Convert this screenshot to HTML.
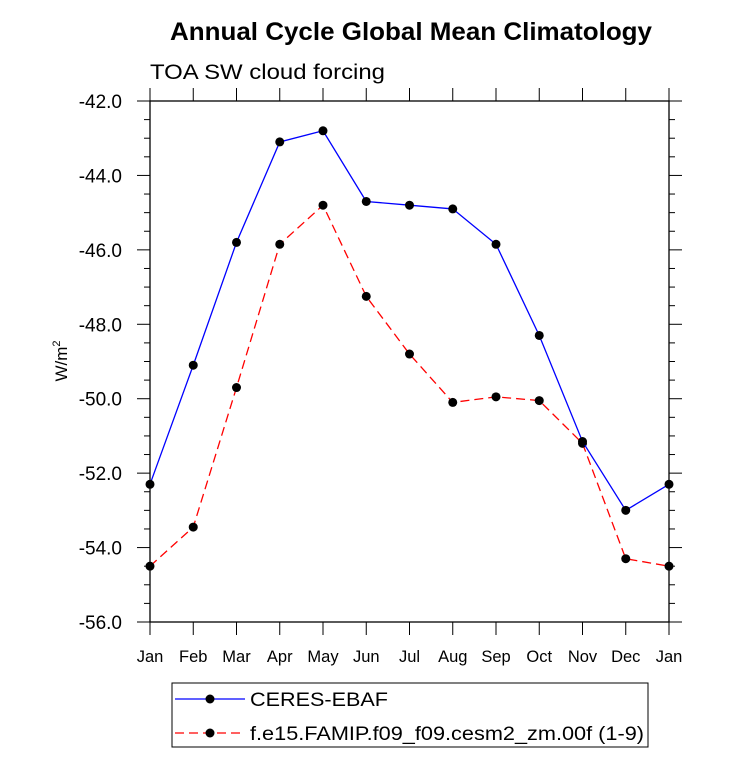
<!DOCTYPE html>
<html><head><meta charset="utf-8"><style>
body{margin:0;background:#fff;}
svg text{font-family:"Liberation Sans",Arial,sans-serif;}
</style></head><body>
<svg id="chart" width="733" height="757" xmlns="http://www.w3.org/2000/svg">
<text x="411" y="40" font-size="25" font-weight="bold" text-anchor="middle" textLength="482" lengthAdjust="spacingAndGlyphs">Annual Cycle Global Mean Climatology</text>
<text x="150" y="79" font-size="21" textLength="235" lengthAdjust="spacingAndGlyphs">TOA SW cloud forcing</text>
<g id="axes"></g>
<g id="series"></g>
<g>
<rect x="172" y="683" width="476" height="64" fill="#fff" stroke="#000" stroke-width="1"/>
<line x1="175" y1="699" x2="245" y2="699" stroke="#0000ff" stroke-width="1.3"/>
<circle cx="210" cy="699" r="4.5" fill="#000"/>
<text x="250" y="706" font-size="19" textLength="138" lengthAdjust="spacingAndGlyphs">CERES-EBAF</text>
<line x1="175" y1="733" x2="245" y2="733" stroke="#ff0000" stroke-width="1.3" stroke-dasharray="9,5"/>
<circle cx="210" cy="733" r="4.5" fill="#000"/>
<text x="250" y="740" font-size="19" textLength="394" lengthAdjust="spacingAndGlyphs">f.e15.FAMIP.f09_f09.cesm2_zm.00f (1-9)</text>
</g>
</svg>
<script>
const months=["Jan","Feb","Mar","Apr","May","Jun","Jul","Aug","Sep","Oct","Nov","Dec","Jan"];
const ceres=[-52.3,-49.1,-45.8,-43.1,-42.8,-44.7,-44.8,-44.9,-45.85,-48.3,-51.15,-53.0,-52.3];
const model=[-54.5,-53.45,-49.7,-45.85,-44.8,-47.25,-48.8,-50.1,-49.95,-50.05,-51.2,-54.3,-54.5];
const yTicks=[-42,-44,-46,-48,-50,-52,-54,-56];
const NS="http://www.w3.org/2000/svg";
const L=150,R=669,T=101,B=622,yMin=-56,yMax=-42;
function xs(i){return L+(R-L)*i/(months.length-1);}
function ys(v){return B-(v-yMin)/(yMax-yMin)*(B-T);}
function mk(tag,attrs,parent){const e=document.createElementNS(NS,tag);for(const k in attrs)e.setAttribute(k,attrs[k]);parent.appendChild(e);return e;}
const ax=document.getElementById('axes');
const fr=mk('rect',{x:L,y:T,width:R-L,height:B-T,fill:'none',stroke:'#000','stroke-width':1.3},ax);


for(let v=yMin;v<=yMax+0.001;v+=0.5){
  const y=ys(v);const major=Math.abs(v/2-Math.round(v/2))<0.001;const len=major?13:6;
  mk('line',{x1:L-len,y1:y,x2:L,y2:y,stroke:'#000','stroke-width':1},ax);
  mk('line',{x1:R,y1:y,x2:R+len,y2:y,stroke:'#000','stroke-width':1},ax);
}
yTicks.forEach(v=>{
  const t=mk('text',{x:L-28,y:ys(v)+7,'font-size':19,'text-anchor':'end'},ax);
  t.textContent=v.toFixed(1);
  
  
});
months.forEach((m,i)=>{
  const x=xs(i);
  mk('line',{x1:x,y1:B,x2:x,y2:B+13,stroke:'#000','stroke-width':1},ax);
  mk('line',{x1:x,y1:T-13,x2:x,y2:T,stroke:'#000','stroke-width':1},ax);
  const t=mk('text',{x:x,y:B+40,'font-size':16.5,'text-anchor':'middle'},ax);
  t.textContent=m;
  
  
});
const yt=mk('text',{transform:'translate(67,361) rotate(-90)','font-size':17,'text-anchor':'middle'},ax);
yt.innerHTML='W/m<tspan dy="-7" font-size="11">2</tspan>';


const sg=document.getElementById('series');
function drawSeries(vals,color,dash,name){
  const p=mk('polyline',{points:vals.map((v,i)=>xs(i)+','+ys(v)).join(' '),fill:'none',stroke:color,'stroke-width':1.3,'stroke-dasharray':dash},sg);
  
  
  vals.forEach((v,i)=>{
    const c=mk('circle',{cx:xs(i),cy:ys(v),r:4.5,fill:'#000'},sg);
    
    
  });
}
drawSeries(model,'#ff0000','9,5','model');
drawSeries(ceres,'#0000ff','none','ceres');
</script>
</body></html>
